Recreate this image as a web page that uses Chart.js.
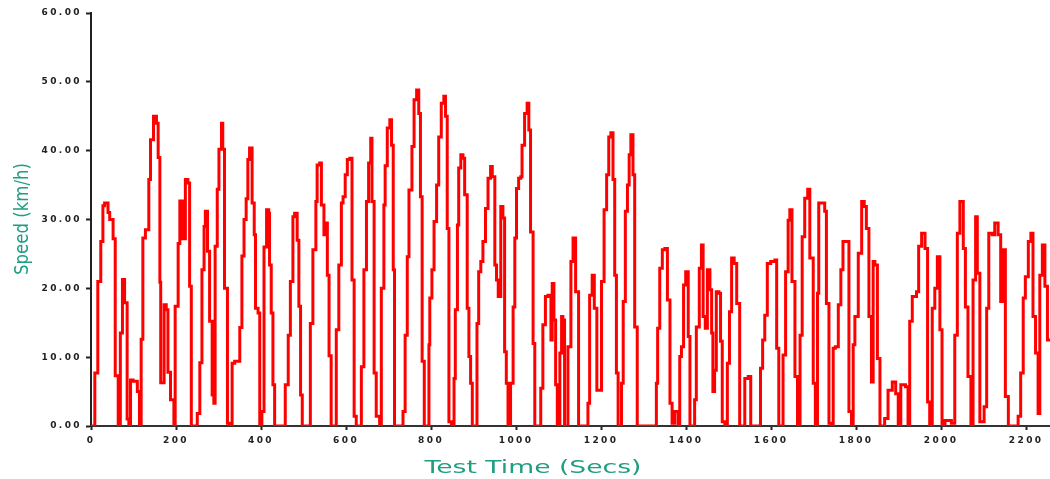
<!DOCTYPE html>
<html>
<head>
<meta charset="utf-8">
<script src="https://cdn.jsdelivr.net/npm/chart.js@4.4.1/dist/chart.umd.min.js"></script>
<style>
  html, body { margin: 0; padding: 0; background: #fff; }
  #wrap { width: 1050px; height: 479px; position: relative; }
</style>
</head>
<body>
<div id="wrap"><canvas id="speedChart"></canvas></div>
<script>
// test time in seconds where the speed changes, and the speed held from there (km/h)
const times = [
  0, 9, 16, 23, 28, 32, 40, 44, 52, 57, 64, 69, 74, 79, 85, 89, 93, 99, 109, 114,
  118, 122, 128, 136, 140, 147, 154, 158, 162, 164, 172, 177, 181, 187, 195, 198, 205, 209, 216, 222,
  228, 232, 236, 250, 256, 261, 266, 269, 274, 279, 285, 289, 292, 297, 301, 307, 310, 314, 321, 326,
  332, 338, 350, 355, 360, 365, 369, 373, 379, 384, 387, 393, 397, 402, 407, 413, 418, 420, 424, 428,
  432, 457, 464, 469, 475, 479, 485, 489, 493, 497, 516, 522, 529, 532, 538, 542, 548, 551, 556, 560,
  565, 577, 583, 589, 593, 598, 603, 609, 614, 619, 624, 636, 642, 648, 653, 658, 661, 666, 671, 679,
  683, 689, 692, 697, 703, 707, 711, 714, 734, 739, 744, 748, 755, 760, 766, 771, 775, 779, 784, 795,
  797, 802, 807, 813, 818, 824, 830, 834, 838, 842, 848, 854, 857, 862, 865, 870, 875, 879, 885, 889,
  893, 897, 908, 912, 917, 922, 928, 934, 940, 944, 950, 954, 958, 964, 969, 973, 977, 981, 987, 993,
  997, 1001, 1006, 1011, 1014, 1020, 1026, 1030, 1034, 1040, 1044, 1058, 1063, 1069, 1075, 1082, 1085, 1089, 1093, 1097,
  1103, 1107, 1110, 1114, 1122, 1129, 1134, 1140, 1147, 1169, 1173, 1179, 1184, 1190, 1201, 1207, 1213, 1218, 1223, 1228,
  1232, 1236, 1240, 1248, 1252, 1257, 1262, 1266, 1270, 1275, 1279, 1285, 1330, 1333, 1338, 1344, 1350, 1356, 1362, 1367,
  1373, 1381, 1385, 1389, 1394, 1399, 1405, 1409, 1420, 1424, 1431, 1436, 1440, 1445, 1450, 1456, 1460, 1463, 1467, 1471,
  1477, 1481, 1485, 1491, 1497, 1502, 1507, 1513, 1519, 1526, 1538, 1546, 1552, 1575, 1580, 1585, 1591, 1599, 1609, 1613,
  1618, 1628, 1634, 1640, 1644, 1649, 1656, 1662, 1668, 1673, 1679, 1686, 1691, 1699, 1704, 1709, 1712, 1726, 1730, 1736,
  1742, 1746, 1751, 1758, 1764, 1769, 1777, 1783, 1789, 1793, 1797, 1805, 1813, 1819, 1824, 1830, 1836, 1840, 1844, 1850,
  1856, 1867, 1875, 1885, 1893, 1899, 1905, 1916, 1922, 1926, 1932, 1942, 1947, 1954, 1962, 1968, 1973, 1979, 1985, 1991,
  1997, 2002, 2009, 2024, 2032, 2038, 2044, 2052, 2057, 2063, 2070, 2075, 2081, 2085, 2091, 2101, 2107, 2112, 2120, 2126,
  2134, 2140, 2146, 2151, 2158, 2181, 2187, 2193, 2198, 2205, 2211, 2216, 2222, 2228, 2232, 2238, 2244, 2250, 2256
];
const speeds = [
  0, 7.7, 21, 26.8, 32, 32.4, 31, 30, 27.2, 7.3, 0, 13.5, 21.3, 17.9, 1, 0, 6.7, 6.5, 5, 0,
  12.6, 27.3, 28.5, 35.8, 41.6, 45, 44, 39, 20.9, 6.3, 17.6, 16.9, 7.8, 3.8, 0, 17.4, 26.5, 32.7, 27.2, 35.8,
  35.3, 20.3, 0, 1.8, 9.2, 22.7, 29, 31.2, 25.4, 15.2, 4.5, 3.3, 26.1, 34.4, 40.2, 44, 40.2, 20, 0.4, 0,
  9.1, 9.4, 14.3, 24.7, 30, 33, 38.7, 40.4, 32.4, 27.8, 17.1, 16.4, 0, 2.1, 26, 31.4, 30.9, 23.4, 16.4, 6,
  0, 6, 13.2, 21, 30.4, 30.9, 27, 17.4, 4.5, 0, 14.9, 25.6, 32.6, 37.9, 38.2, 32.1, 27.8, 29.5, 21.9, 10.2,
  0, 14, 23.4, 32.4, 33.3, 36.5, 38.7, 38.9, 21.2, 1.4, 0, 8.6, 22.7, 32.6, 38.2, 41.8, 32.6, 7.7, 1.4, 0,
  20, 32.1, 37.8, 43.3, 44.5, 40.8, 22.7, 0, 2.1, 13.2, 24.6, 34.3, 40.6, 47.4, 48.8, 45.4, 33.3, 9.4, 0, 11.8,
  18.6, 22.7, 29.7, 35, 42, 46.9, 47.9, 45, 28.7, 0.6, 0, 6.9, 16.9, 29.2, 37.5, 39.4, 38.9, 33.6, 17.1, 10.1,
  6.2, 0, 14.9, 22.4, 23.9, 26.8, 31.6, 36, 37.7, 36.2, 23.4, 21.2, 18.8, 31.9, 30.2, 10.8, 6.2, 0, 6.2, 17.3,
  27.3, 34.5, 36, 36.2, 40.8, 45.4, 46.9, 43, 28.2, 12, 0, 5.5, 14.7, 18.8, 19, 12.5, 20.7, 15.4, 6, 0,
  10.6, 15.9, 15.4, 0, 11.5, 23.9, 27.3, 19.5, 0, 3.3, 19, 21.9, 17.1, 5.2, 21, 31.4, 36.5, 42, 42.6, 35.8,
  21.9, 7.7, 0, 6.2, 18.1, 31.2, 35, 39.4, 42.3, 36.5, 14.4, 0, 6.2, 14.2, 22.9, 25.6, 25.8, 18.3, 3.3, 0.4,
  2.1, 0, 10.1, 11.5, 20.5, 22.4, 13, 0, 3.8, 14.4, 22.9, 26.3, 15.9, 14.2, 22.7, 19.8, 13.5, 5, 8.1, 19.5,
  19.3, 12.3, 0.6, 0, 9.1, 16.6, 24.4, 23.6, 17.8, 0, 6.9, 7.2, 0, 8.4, 12.5, 16.1, 23.6, 23.9, 24.1, 11.3,
  0, 10.3, 22.4, 29.9, 31.4, 21, 7.2, 0, 13.2, 27.5, 33.1, 34.4, 24.4, 6.2, 0, 19.3, 32.4, 31.2, 17.8, 0.4,
  0, 11.3, 11.5, 17.6, 22.7, 26.8, 26.8, 2.1, 0, 11.8, 15.9, 25.1, 32.6, 31.9, 28.7, 15.9, 6.4, 23.9, 23.4, 9.8,
  0, 1.1, 5.2, 6.4, 4.7, 0, 6, 5.7, 0, 15.2, 18.8, 19.5, 26.1, 28, 25.8, 3.5, 0, 17.1, 20, 24.6,
  14, 0.1, 0.8, 0.4, 13.2, 28, 32.6, 25.8, 17.3, 7.2, 0, 21.2, 30.4, 22.2, 0.6, 2.8, 17.1, 28, 27.8, 29.5,
  27.8, 18.1, 25.6, 4.3, 0, 1.4, 7.7, 18.6, 21.7, 26.8, 28, 15.9, 10.6, 1.8, 21.9, 26.3, 20.3, 12.5, 12.5
];
const yTicks = [0, 10, 20, 30, 40, 50, 60];
const xTickStep = 200;

const xTitle = 'Test Time (Secs)';
const yTitle = 'Speed (km/h)';
const titleColor = '#1f9e82';
const tickFont = { family: 'DejaVu Sans', size: 9, weight: 'bold' };

// the source picture is stretched sideways, so the texts get extra room
const textStretch = {
  id: 'textStretch',
  beforeDraw(chart) {
    chart.ctx.letterSpacing = '2.4px';
  },
  afterDraw(chart) {
    const ctx = chart.ctx;
    ctx.letterSpacing = '0px';
    ctx.save();
    ctx.fillStyle = titleColor;
    ctx.textAlign = 'center';
    ctx.textBaseline = 'middle';
    ctx.font = '17px "DejaVu Sans"';
    const w = ctx.measureText(xTitle).width;
    ctx.translate(533, 469);
    ctx.scale(217 / w, 1);
    ctx.fillText(xTitle, 0, 0);
    ctx.restore();

    ctx.save();
    ctx.fillStyle = titleColor;
    ctx.textAlign = 'center';
    ctx.textBaseline = 'middle';
    ctx.font = '16px "DejaVu Sans"';
    ctx.translate(23, 219);
    ctx.rotate(-Math.PI / 2);
    ctx.scale(112 / ctx.measureText(yTitle).width, 1.25);
    ctx.fillText(yTitle, 0, 0);
    ctx.restore();
  }
};

const ctx = document.getElementById('speedChart').getContext('2d');
new Chart(ctx, {
  type: 'line',
  data: {
    datasets: [{
      data: times.map((t, i) => ({ x: t, y: speeds[i] })),
      stepped: true,
      borderColor: '#ff0000',
      borderWidth: 3,
      pointRadius: 0,
      fill: false
    }]
  },
  options: {
    responsive: true,
    maintainAspectRatio: false,
    animation: false,
    layout: { padding: { top: 13, right: 0, bottom: 0, left: 0 } },
    plugins: {
      legend: { display: false },
      tooltip: { enabled: false }
    },
    scales: {
      x: {
        type: 'linear',
        min: 0,
        max: 2256,
        afterFit: scale => { scale.height = 53; },
        border: { color: '#333', width: 2 },
        grid: { drawOnChartArea: false, tickLength: 4, tickColor: '#222', tickWidth: 2 },
        ticks: {
          stepSize: xTickStep,
          includeBounds: false,
          maxRotation: 0,
          autoSkip: false,
          padding: 5,
          color: '#222',
          font: tickFont,
          callback: v => String(v)
        }
      },
      y: {
        min: yTicks[0],
        max: yTicks[yTicks.length - 1],
        afterFit: scale => { scale.width = 91; },
        afterBuildTicks: scale => { scale.ticks = yTicks.map(v => ({ value: v })); },
        border: { color: '#222', width: 2 },
        grid: { drawOnChartArea: false, tickLength: 5, tickColor: '#222', tickWidth: 2 },
        ticks: {
          padding: 4,
          color: '#222',
          font: tickFont,
          callback: v => v.toFixed(2)
        }
      }
    }
  },
  plugins: [textStretch]
});
</script>
</body>
</html>
